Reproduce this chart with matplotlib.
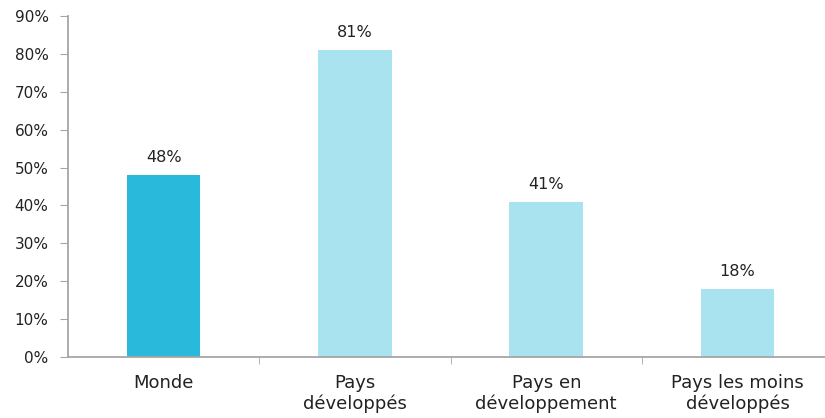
import matplotlib
matplotlib.use("Agg")
import matplotlib.pyplot as plt
from matplotlib.ticker import FuncFormatter, MultipleLocator, FixedLocator

categories = ["Monde", "Pays\ndéveloppés", "Pays en\ndéveloppement", "Pays les moins\ndéveloppés"]
values = [48, 81, 41, 18]
colors = ["#29B9DA", "#A9E3EF", "#A9E3EF", "#A9E3EF"]

plt.rcParams['font.family'] = ['DejaVu Sans']
fig = plt.figure(figsize=(8.25, 4.18), dpi=100)
ax = fig.add_axes([68/825, (418-357)/418, (825-68)/825, (357-16)/418])

x = list(range(len(categories)))
ax.bar(x, values, width=0.385, color=colors, zorder=2)
for xi, v in zip(x, values):
    ax.annotate(f"{v}%", (xi, v), xytext=(0, 7), textcoords="offset points",
                ha="center", va="bottom", fontsize=11.5, color="#222222")

ax.set_ylim(0, 90)
ax.set_xlim(-0.5, -0.5 + (825-68)/191.3)
ax.yaxis.set_major_locator(MultipleLocator(10))
ax.yaxis.set_major_formatter(FuncFormatter(lambda v, p: f"{int(round(v))}%"))
ax.set_xticks(x)
ax.set_xticklabels(categories, fontsize=13, color="#222222", linespacing=1.22)
ax.xaxis.set_minor_locator(FixedLocator([0.5, 1.5, 2.5]))
ax.tick_params(axis="x", which="major", length=0, pad=12)
ax.tick_params(axis="x", which="minor", length=5, color="#A6A6A6", direction="out")
ax.tick_params(axis="y", length=6, color="#A6A6A6", labelsize=11, labelcolor="#222222", pad=8)
for s in ["top", "right"]:
    ax.spines[s].set_visible(False)
for s in ["left", "bottom"]:
    ax.spines[s].set_color("#A6A6A6")
    ax.spines[s].set_linewidth(1.3)

fig.savefig("out.png", dpi=100)
